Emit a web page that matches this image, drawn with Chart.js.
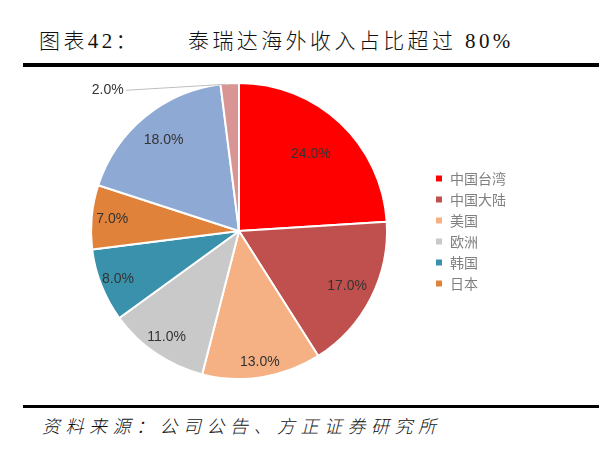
<!DOCTYPE html>
<html>
<head>
<meta charset="utf-8">
<script src="https://cdn.jsdelivr.net/npm/chart.js@4.4.0/dist/chart.umd.min.js"></script>
<style>
  body { margin: 0; width: 613px; height: 452px; background: #fff; position: relative; overflow: hidden; }
  .title { position: absolute; top: 24px; font-family: "Liberation Serif", "Noto Sans CJK SC", serif; font-size: 21px; font-weight: 300; color: #111; letter-spacing: 3.4px; white-space: nowrap; }
  .rule { position: absolute; left: 23px; width: 576px; background: #000; }
  .source { position: absolute; left: 42px; top: 412px; font-family: "Noto Sans CJK SC", sans-serif; font-size: 18px; font-weight: 300; font-style: italic; color: #111; letter-spacing: 5.5px; white-space: nowrap; }
  #box { position: absolute; left: 50px; top: 82px; width: 480px; height: 298px; }
</style>
</head>
<body>
<div class="title" style="left:39px">图表42：</div>
<div class="title" style="left:188px">泰瑞达海外收入占比超过 80%</div>
<div class="rule" style="top:63px;height:4px"></div>
<div id="box"><canvas id="myChart"></canvas></div>
<div class="rule" style="top:405px;height:2.5px"></div>
<div class="source">资料来源：公司公告、方正证券研究所</div>
<script>
const regions = ["中国台湾", "中国大陆", "美国", "欧洲", "韩国", "日本", "其他", "其他地区"];
const shares = [24, 17, 13, 11, 8, 7, 18, 2];
const sliceColors = ["#FF0000", "#C0504D", "#F5B183", "#C9C9C9", "#3A91AB", "#E0823A", "#8EA9D4", "#D99594"];
const legendCount = 6;

// slice labels, drawn after the arcs
const sliceLabels = {
    id: 'sliceLabels',
    afterDatasetsDraw(chart, args, opts) {
        const ctx = chart.ctx;
        const arcs = chart.getDatasetMeta(0).data;
        ctx.save();
        ctx.font = '14px "Liberation Sans", Arial, sans-serif';
        ctx.fillStyle = '#333';
        ctx.textAlign = 'center';
        ctx.textBaseline = 'middle';
        arcs.forEach((arc, i) => {
            const p = arc.getProps(['x', 'y', 'startAngle', 'endAngle', 'outerRadius'], true);
            const mid = (p.startAngle + p.endAngle) / 2;
            const text = shares[i].toFixed(1) + '%';
            if (i === arcs.length - 1) {
                // small slice: label outside with a leader line
                const ex = p.x + Math.cos(mid) * p.outerRadius;
                const ey = p.y + Math.sin(mid) * p.outerRadius;
                ctx.strokeStyle = '#bfbfbf';
                ctx.lineWidth = 1;
                ctx.beginPath();
                ctx.moveTo(ex - 4, ey + 1);
                ctx.lineTo(ex - 104, ey + 7);
                ctx.stroke();
                ctx.textAlign = 'right';
                ctx.fillText(text, ex - 106, ey + 7);
                ctx.textAlign = 'center';
                return;
            }
            const f = opts.radius[i];
            ctx.fillText(text, p.x + Math.cos(mid) * p.outerRadius * f, p.y + Math.sin(mid) * p.outerRadius * f);
        });
        ctx.restore();
    }
};

function createChart() {
    const myChart = document.getElementById("myChart").getContext('2d');
    return new Chart(myChart, {
        type: 'pie',
        data: {
            labels: regions,
            datasets: [{
                data: shares,
                backgroundColor: sliceColors,
                borderColor: '#fff',
                borderWidth: 2,
                hoverOffset: 0
            }]
        },
        options: {
            responsive: true,
            maintainAspectRatio: false,
            animation: false,
            layout: { padding: { right: 14 } },
            plugins: {
                tooltip: { enabled: false },
                legend: {
                    position: 'right',
                    align: 'center',
                    labels: {
                        boxWidth: 8,
                        boxHeight: 8,
                        padding: 7,
                        color: '#808080',
                        font: { family: '"Noto Sans CJK SC", sans-serif', size: 14 },
                        filter: (item) => item.index < legendCount
                    }
                },
                sliceLabels: { radius: [0.71, 0.82, 0.9, 0.87, 0.88, 0.86, 0.8] }
            }
        },
        plugins: [sliceLabels]
    });
}

createChart();
</script>
</body>
</html>
